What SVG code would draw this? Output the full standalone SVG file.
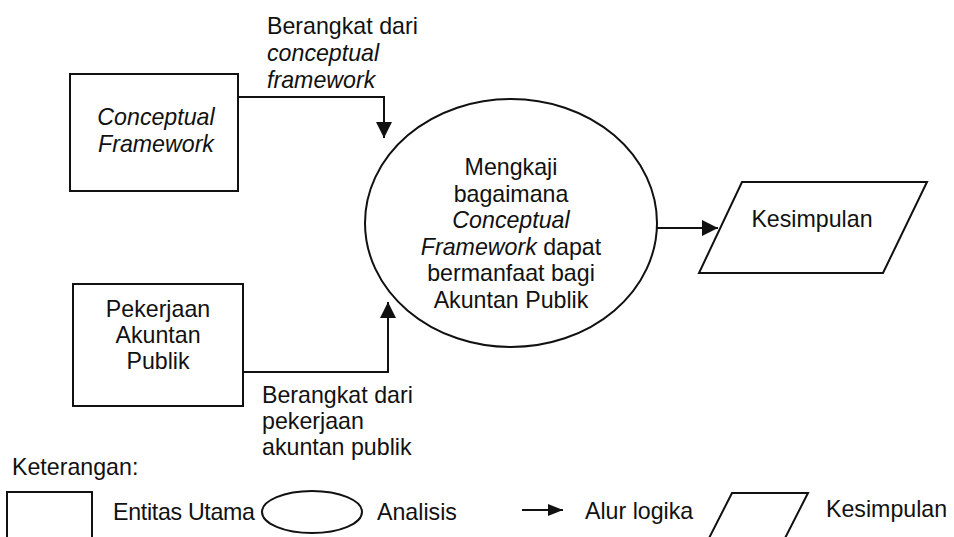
<svg xmlns="http://www.w3.org/2000/svg" width="954" height="537" viewBox="0 0 954 537">
<defs>
<style>
text{font-family:"Liberation Sans",Arial,sans-serif;font-size:23.2px;fill:#111}
.i{font-style:italic}
.m{text-anchor:middle}
.s{fill:none;stroke:#111;stroke-width:2}
.c{fill:none;stroke:#111;stroke-width:2}
</style>
<marker id="ah" markerUnits="userSpaceOnUse" markerWidth="17" markerHeight="17" refX="16" refY="8" orient="auto">
<path d="M0,0 L16,8 L0,16 z" fill="#111"/>
</marker>
<marker id="ahs" markerUnits="userSpaceOnUse" markerWidth="16" markerHeight="14" refX="15" refY="6" orient="auto">
<path d="M0,0 L15,6 L0,12 z" fill="#111"/>
</marker>
</defs>
<rect width="954" height="537" fill="#fff"/>

<g id="connectors">
<polyline class="c" points="238,97 384,97 384,138" marker-end="url(#ah)"/>
<polyline class="c" points="243,372 388,372 388,302" marker-end="url(#ah)"/>
<line class="c" x1="657" y1="228" x2="718" y2="228" marker-end="url(#ah)"/>
<text x="267" y="34">Berangkat dari</text>
<text class="i" x="267" y="61">conceptual</text>
<text class="i" x="267" y="88">framework</text>
<text x="262" y="403">Berangkat dari</text>
<text x="262" y="429">pekerjaan</text>
<text x="262" y="455">akuntan publik</text>
</g>

<g id="conceptual-framework">
<rect class="s" x="70" y="74" width="168" height="117"/>
<text class="i m" x="156" y="125">Conceptual</text>
<text class="i m" x="156" y="152">Framework</text>
</g>

<g id="pekerjaan-akuntan-publik">
<rect class="s" x="73" y="284" width="170" height="122"/>
<text class="m" x="158" y="317">Pekerjaan</text>
<text class="m" x="158" y="343">Akuntan</text>
<text class="m" x="158" y="369">Publik</text>
</g>

<g id="analisis">
<ellipse class="s" cx="511" cy="223" rx="146" ry="124"/>
<text class="m" x="511" y="175">Mengkaji</text>
<text class="m" x="511" y="201.5">bagaimana</text>
<text class="m i" x="511" y="228">Conceptual</text>
<text class="m" x="511" y="254.5"><tspan class="i">Framework</tspan> dapat</text>
<text class="m" x="511" y="281">bermanfaat bagi</text>
<text class="m" x="511" y="307.5">Akuntan Publik</text>
</g>

<g id="kesimpulan">
<polygon class="s" points="742,182 927,182 883,273 699,273"/>
<text class="m" x="812" y="227">Kesimpulan</text>
</g>

<g id="legend">
<text x="12" y="475">Keterangan:</text>
<rect class="s" x="7" y="492" width="85" height="60"/>
<text x="113" y="520" textLength="142">Entitas Utama</text>
<ellipse class="s" cx="312" cy="512" rx="50" ry="21"/>
<text x="377" y="520">Analisis</text>
<line class="c" x1="522" y1="510" x2="563" y2="510" marker-end="url(#ahs)"/>
<text x="585" y="519">Alur logika</text>
<polygon class="s" points="732,493 808,493 780,548 704,548"/>
<text x="826" y="517">Kesimpulan</text>
</g>
</svg>
